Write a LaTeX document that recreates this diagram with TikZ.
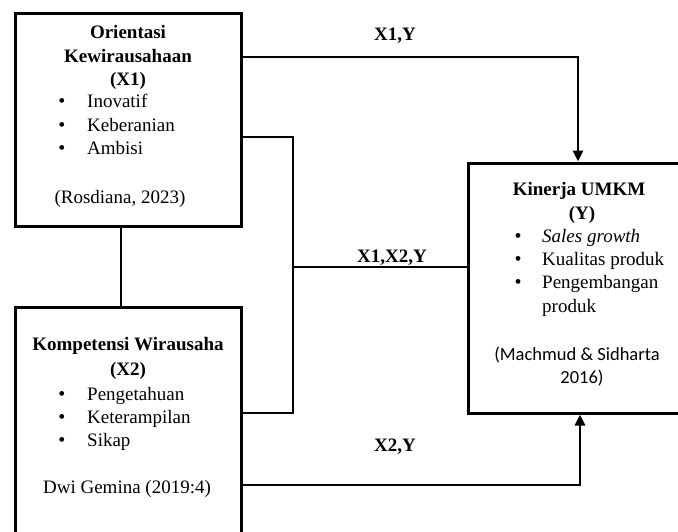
\documentclass[tikz,border=0pt]{standalone}
\usepackage{fontspec}
\setmainfont{Liberation Serif}
\newfontfamily\calib{Carlito}
\usetikzlibrary{arrows.meta}
\begin{document}
\begin{tikzpicture}[x=1pt,y=-1pt,
  box/.style={draw, line width=3pt, rectangle, inner sep=0pt},
  conn/.style={line width=2.8pt, line join=miter},
  arr/.style={conn, -{Triangle[length=11pt,width=10pt]}},
  txt/.style={anchor=base, inner sep=0pt, font=\fontsize{19}{23}\selectfont},
  ltxt/.style={txt, anchor=base west},
  bul/.style={txt, font=\fontsize{20}{23}\selectfont},
  ctxt/.style={txt, font=\calib\fontsize{18.5}{23}\selectfont},
  lab/.style={txt, font=\fontsize{19}{23}\selectfont\bfseries}]
\useasboundingbox (0,0) rectangle (678,531);
\fill[white] (0,0) rectangle (678,531);
\clip (0,0) rectangle (678,531);

% boxes
\node[box, minimum width=226pt, minimum height=213pt] (x1) at (128,119.5) {};
\node[box, minimum width=226pt, minimum height=240pt] (x2) at (128,427) {};
\node[box, minimum width=230pt, minimum height=250pt] (y) at (583,288) {};

% X1 text
\node[txt] (x1t1) at (128,38) {\bfseries Orientasi};
\node[txt] (x1t2) at (128,62) {\bfseries Kewirausahaan};
\node[txt] (x1t3) at (128,85) {\bfseries (X1)};
\node[bul] (x1b1) at (62,107) {\textbullet};
\node[bul] (x1b2) at (62,131) {\textbullet};
\node[bul] (x1b3) at (62,154) {\textbullet};
\node[ltxt] (x1i1) at (87,107) {Inovatif};
\node[ltxt] (x1i2) at (87,131) {Keberanian};
\node[ltxt] (x1i3) at (87,154) {Ambisi};
\node[txt] (x1c) at (120,203) {(Rosdiana, 2023)};

% X2 text
\node[txt] (x2t1) at (128,350) {\bfseries Kompetensi Wirausaha};
\node[txt] (x2t2) at (128,375) {\bfseries (X2)};
\node[bul] (x2b1) at (62,400) {\textbullet};
\node[bul] (x2b2) at (62,423) {\textbullet};
\node[bul] (x2b3) at (62,446) {\textbullet};
\node[ltxt] (x2i1) at (87,400) {Pengetahuan};
\node[ltxt] (x2i2) at (87,423) {Keterampilan};
\node[ltxt] (x2i3) at (87,446) {Sikap};
\node[txt] (x2c) at (127,493) {Dwi Gemina (2019:4)};

% Y text
\node[txt] (yt1) at (579,195) {\bfseries Kinerja UMKM};
\node[txt] (yt2) at (582,219) {\bfseries (Y)};
\node[bul] (yb1) at (518,242) {\textbullet};
\node[bul] (yb2) at (518,265) {\textbullet};
\node[bul] (yb3) at (518,288) {\textbullet};
\node[ltxt] (yi1) at (542,242) {\itshape Sales growth};
\node[ltxt] (yi2) at (542,265) {Kualitas produk};
\node[ltxt] (yi3) at (542,288) {Pengembangan};
\node[ltxt] (yi4) at (542,312) {produk};
\node[ctxt] (yc1) at (577,360) {(Machmud \& Sidharta};
\node[ctxt] (yc2) at (582,383) {2016)};

% labels
\node[lab] (l1) at (395,40) {X1,Y};
\node[lab] (l2) at (392,262) {X1,X2,Y};
\node[lab] (l3) at (395,451) {X2,Y};

% connectors
\coordinate (c1) at (578,57);
\draw[arr] (x1.east |- c1) -- (c1) -- (c1 |- y.north);

\coordinate (j1) at (293,137);
\coordinate (j2) at (293,413);
\coordinate (j3) at (293,267);
\draw[conn] (x1.east |- j1) -- (j1) -- (j2) -- (x2.east |- j2);
\draw[conn] (j3) -- (y.west |- j3);

\coordinate (v) at (121,260);
\draw[conn] (x1.south -| v) -- (x2.north -| v);

\coordinate (c2) at (580,485);
\draw[arr] (x2.east |- c2) -- (c2) -- (c2 |- y.south);
\end{tikzpicture}
\end{document}
